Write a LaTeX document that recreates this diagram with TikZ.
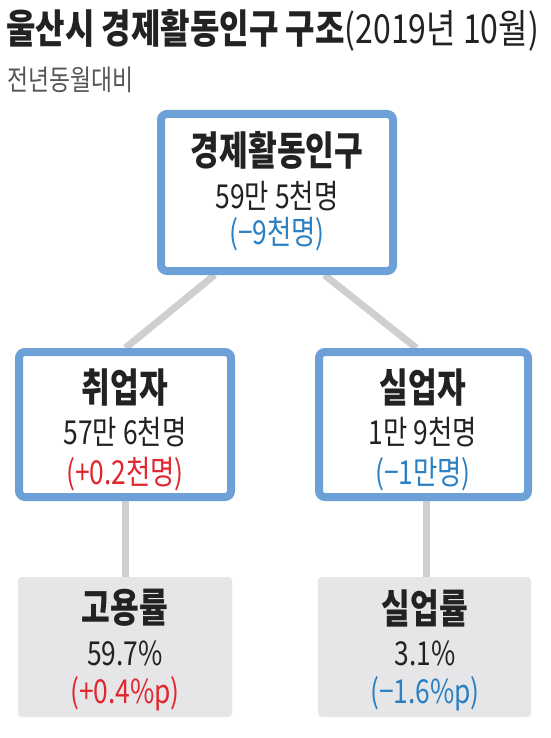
\documentclass[tikz,border=0pt]{standalone}
\usepackage{fontspec}
\usetikzlibrary{calc}
\newfontfamily\kr[FakeStretch=0.78]{Noto Sans CJK KR}
\newfontfamily\krv[FakeStretch=0.8]{Noto Sans CJK KR}
\definecolor{boxblue}{HTML}{6CA0D6}
\definecolor{txtblue}{HTML}{2A80C2}
\definecolor{txtred}{HTML}{E1262D}
\definecolor{linegray}{HTML}{CFCFD2}
\definecolor{cardgray}{HTML}{E6E6E8}
\definecolor{ink}{HTML}{222222}
\definecolor{subgray}{HTML}{555555}
\pgfdeclarelayer{background}
\pgfsetlayers{background,main}
\tikzset{
  bluebox/.style={draw=boxblue, line width=8pt, fill=white, rounded corners=6pt, inner sep=0pt},
  graybox/.style={fill=cardgray, rounded corners=4pt, inner sep=0pt},
  conn/.style={draw=linegray, line width=7pt},
  head/.style={font=\kr\bfseries\fontsize{40}{44}\selectfont, text=ink, inner sep=0pt},
  val/.style={font=\krv\fontsize{33}{36}\selectfont, text=ink, inner sep=0pt},
  chg/.style={font=\krv\fontsize{33}{36}\selectfont, inner sep=0pt}
}
\begin{document}
\begin{tikzpicture}[x=1pt,y=-1pt]
\useasboundingbox (0,0) rectangle (550,738);
% title
\node[anchor=west, inner sep=0pt, text=ink] (title) at (6,30)
  {\krv\fontsize{40}{44}\selectfont\textbf{울산시 경제활동인구 구조}(2019년 10월)};
\node[anchor=west, inner sep=0pt, text=subgray] (sub) at (7,80)
  {\krv\fontsize{28.5}{32}\selectfont 전년동월대비};
% boxes
\node[bluebox, minimum width=232pt, minimum height=157pt] (top) at (277,192.5) {};
\node[bluebox, minimum width=212pt, minimum height=145pt] (ml) at (125,424.5) {};
\node[bluebox, minimum width=209pt, minimum height=145pt] (mr) at (423.5,424.5) {};
\node[graybox, minimum width=214pt, minimum height=140pt] (bl) at (125,647) {};
\node[graybox, minimum width=213pt, minimum height=140pt] (br) at (424.5,647) {};
% connectors (behind boxes)
\begin{pgfonlayer}{background}
\fill[white] (0,0) rectangle (550,738);
\path[conn] ($(top.south west)!0.24!(top.south east)$) -- ($(ml.north west)!0.502!(ml.north east)$);
\path[conn] ($(top.south west)!0.698!(top.south east)$) -- ($(mr.north west)!0.467!(mr.north east)$);
\path[conn] (ml.south) -- (bl.north);
\path[conn] ($(mr.south)+(3,0)$) -- ($(br.north)+(2,0)$);
\end{pgfonlayer}
% top box text
\node[head] (t1) at (277,150) {경제활동인구};
\node[val] (t2) at (277,196) {59만 5천명};
\node[chg, text=txtblue] (t3) at (277,234) {(−9천명)};
% middle left
\node[head] (l1) at (125,388) {취업자};
\node[val] (l2) at (125,432) {57만 6천명};
\node[chg, text=txtred] (l3) at (125,474) {(+0.2천명)};
% middle right
\node[head] (r1) at (423,388) {실업자};
\node[val] (r2) at (423,432) {1만 9천명};
\node[chg, text=txtblue] (r3) at (423,474) {(−1만명)};
% bottom left
\node[head] (bl1) at (125,608) {고용률};
\node[val] (bl2) at (125,653) {59.7\%};
\node[chg, text=txtred] (bl3) at (125,694) {(+0.4\%p)};
% bottom right
\node[head] (br1) at (425,608) {실업률};
\node[val] (br2) at (425,653) {3.1\%};
\node[chg, text=txtblue] (br3) at (425,694) {(−1.6\%p)};
\end{tikzpicture}
\end{document}
